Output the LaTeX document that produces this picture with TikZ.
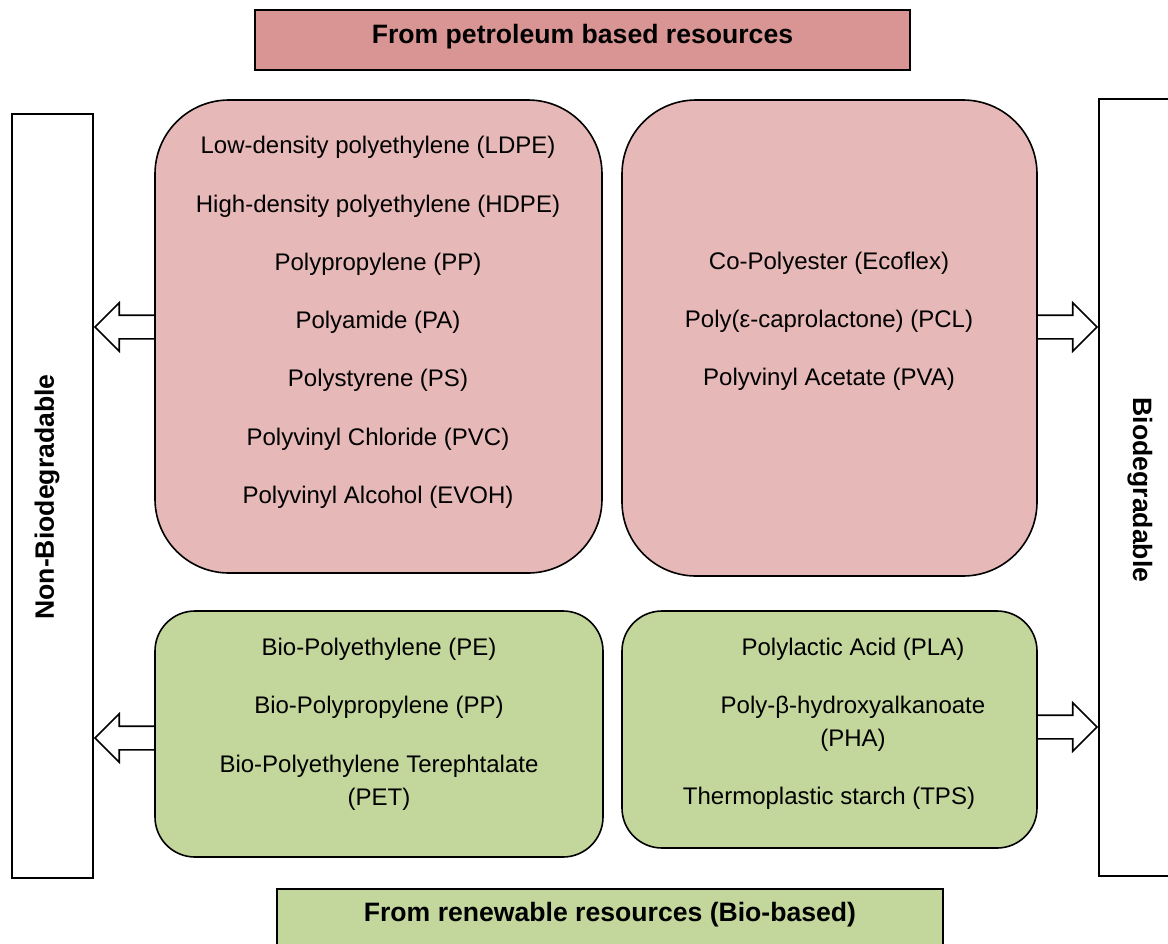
\documentclass[tikz,border=0pt]{standalone}
\usepackage{fontspec}
\setmainfont{Liberation Sans}
\usetikzlibrary{shapes.arrows}
\definecolor{petrohead}{HTML}{D99594}
\definecolor{petrobox}{HTML}{E6B8B7}
\definecolor{biobox}{HTML}{C3D69B}

\begin{document}
\begin{tikzpicture}[x=0.5pt, y=-0.5pt,
    every node/.style={font=\fontsize{12}{14}\selectfont},
    head/.style={draw, line width=0.8pt, inner sep=0pt},
    title/.style={font=\bfseries\fontsize{13.3}{15}\selectfont},
    side/.style={draw, line width=0.8pt, fill=white, inner sep=0pt, minimum width=40.5pt},
    group/.style={draw, line width=0.8pt, inner sep=0pt},
    item/.style={align=center, inner sep=1pt},
    blockarrow/.style={single arrow, draw, fill=white, line width=0.8pt, inner xsep=0pt, inner ysep=5.5pt,
        minimum height=30pt, minimum width=0pt, single arrow head extend=6.25pt, anchor=tip}
]
\useasboundingbox (0,0) rectangle (1168,943);

% Cabeceras
\node[head, fill=petrohead, minimum width=327.5pt, minimum height=30pt] (petro) at (582.5,40) {};
\node[title] (petrotxt) at (582.5,37) {From petroleum based resources};
\node[head, fill=biobox, minimum width=333pt, minimum height=35.5pt] (renew) at (610,924.5) {};
\node[title] (renewtxt) at (610,915) {From renewable resources (Bio-based)};

% Columnas laterales
\node[side, minimum height=382pt] (nonbio) at (52.5,496) {};
\node[title, rotate=90] (nonbiotxt) at (47,497) {Non-Biodegradable};
\node[side, minimum width=50.5pt, minimum height=388.5pt] (bio) at (1149.5,487.5) {};
\node[title, rotate=-90] (biotxt) at (1140,490) {Biodegradable};

% Cajas de polimeros
\node[group, fill=petrobox, rounded corners=37pt, minimum width=223.5pt, minimum height=236.5pt] (pnb) at (378.5,336.5) {};
\node[group, fill=petrobox, rounded corners=37pt, minimum width=207.5pt, minimum height=238pt] (pb) at (829.5,338) {};
\node[group, fill=biobox, rounded corners=20pt, minimum width=224pt, minimum height=123pt] (bnb) at (379,734) {};
\node[group, fill=biobox, rounded corners=20pt, minimum width=207.5pt, minimum height=118.5pt] (bb) at (829.5,729.5) {};

% Textos
\node[item] (ldpe) at (378,147) {Low-density polyethylene (LDPE)};
\node[item] (hdpe) at (378,206) {High-density polyethylene (HDPE)};
\node[item] (pp) at (378,264) {Polypropylene (PP)};
\node[item] (pa) at (378,322) {Polyamide (PA)};
\node[item] (ps) at (378,380) {Polystyrene (PS)};
\node[item] (pvc) at (378,439) {Polyvinyl Chloride (PVC)};
\node[item] (evoh) at (378,497) {Polyvinyl Alcohol (EVOH)};

\node[item] (ecoflex) at (829,263) {Co-Polyester (Ecoflex)};
\node[item] (pcl) at (829,321) {Poly(ε-caprolactone) (PCL)};
\node[item] (pva) at (829,379) {Polyvinyl Acetate (PVA)};

\node[item] (biope) at (379,649) {Bio-Polyethylene (PE)};
\node[item] (biopp) at (379,707) {Bio-Polypropylene (PP)};
\node[item, font=\fontsize{12}{16.5}\selectfont] (biopet) at (379,782.5) {Bio-Polyethylene Terephtalate\\(PET)};

\node[item] (pla) at (853,649) {Polylactic Acid (PLA)};
\node[item, font=\fontsize{12}{16.5}\selectfont] (pha) at (853,723.5) {Poly-β-hydroxyalkanoate\\(PHA)};
\node[item] (tps) at (829,798) {Thermoplastic starch (TPS)};

% Flechas
\node[blockarrow, shape border rotate=180] (a1) at (nonbio.east |- 0,327) {};
\node[blockarrow] (a2) at (bio.west |- 0,327) {};
\node[blockarrow, shape border rotate=180] (a3) at (nonbio.east |- 0,738) {};
\node[blockarrow] (a4) at (bio.west |- 0,727) {};

\end{tikzpicture}
\end{document}
